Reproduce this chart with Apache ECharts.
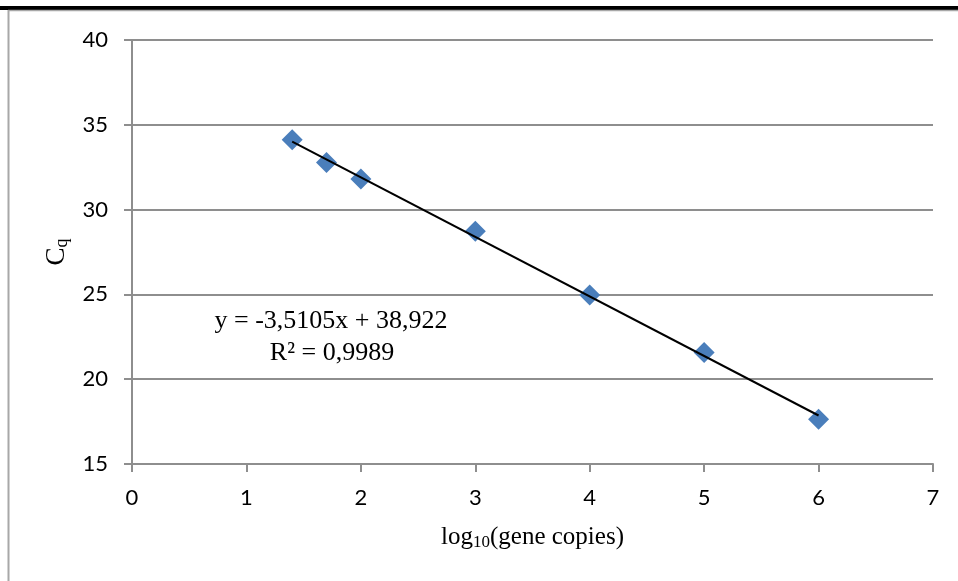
<!DOCTYPE html>
<html><head><meta charset="utf-8">
<script src="https://cdn.jsdelivr.net/npm/echarts@6/dist/echarts.min.js"></script>
<style>html,body{margin:0;padding:0;background:#fff}#c{width:958px;height:581px}</style>
</head><body><div id="c"></div>
<script>
const xValues = [1.4, 1.7, 2, 3, 4, 5, 6];
const cqValues = [34.12, 32.78, 31.8, 28.72, 24.96, 21.58, 17.64];
const trendX = [1.4, 6];
const trendY = [34.007, 17.859];
const equationText = 'y = -3,5105x + 38,922';
const r2Text = 'R² = 0,9989';
const xTicks = [0, 1, 2, 3, 4, 5, 6, 7];
const yTicks = [15, 20, 25, 30, 35, 40];

const chart = echarts.init(document.getElementById('c'));
const gray = '#8e8e8e';
chart.setOption({
  animation: false,
  grid: {left: 132, right: 25, top: 40, bottom: 117},
  xAxis: {
    type: 'value', min: xTicks[0], max: xTicks[xTicks.length-1], interval: 1,
    axisLine: {show: true, lineStyle: {color: gray, width: 2}},
    axisTick: {show: true, inside: false, length: 8, lineStyle: {color: gray, width: 2}},
    splitLine: {show: false},
    axisLabel: {color: '#000', fontFamily: 'Lato', fontSize: 22, margin: 23},
    name: '{a|log}{s|10}{a|(gene copies)}', nameLocation: 'middle', nameGap: 60,
    nameTextStyle: {rich: {
      a: {fontFamily: 'Liberation Serif', fontSize: 25, color: '#000'},
      s: {fontFamily: 'Liberation Serif', fontSize: 17, color: '#000', verticalAlign: 'bottom', padding: [10,0,0,0]}
    }}
  },
  yAxis: {
    type: 'value', min: yTicks[0], max: yTicks[yTicks.length-1], interval: 5,
    axisLine: {show: true, lineStyle: {color: gray, width: 2}},
    axisTick: {show: true, inside: false, length: 8, lineStyle: {color: gray, width: 2}},
    splitLine: {show: true, lineStyle: {color: gray, width: 2}},
    axisLabel: {color: '#000', fontFamily: 'Lato', fontSize: 22, margin: 24},
    name: '{a|C}{s|q}', nameLocation: 'middle', nameGap: 55, nameRotate: 90,
    nameTextStyle: {rich: {
      a: {fontFamily: 'Liberation Serif', fontSize: 27, color: '#000'},
      s: {fontFamily: 'Liberation Serif', fontSize: 18, color: '#000', verticalAlign: 'bottom', padding: [12,0,0,0]}
    }}
  },
  series: [
    {
      type: 'line', data: trendX.map((x, i) => [x, trendY[i]]),
      symbol: 'none', lineStyle: {color: '#000', width: 2}, z: 3
    },
    {
      type: 'scatter', data: xValues.map((x, i) => [x, cqValues[i]]),
      symbol: 'diamond', symbolSize: [21, 21],
      itemStyle: {color: '#4A7EBB', opacity: 1}, z: 2
    }
  ],
  graphic: [
    {type: 'rect', shape: {x: 0, y: 6, width: 958, height: 4}, style: {fill: '#000'}},
    {type: 'line', shape: {x1: 8, y1: 10.5, x2: 958, y2: 10.5}, style: {stroke: '#a8a8a8', lineWidth: 1.5}},
    {type: 'line', shape: {x1: 8.5, y1: 10, x2: 8.5, y2: 581}, style: {stroke: '#a8a8a8', lineWidth: 2}},
    {type: 'text', x: 331, y: 321, style: {text: equationText, font: '26px "Liberation Serif"', fill: '#000', align: 'center', verticalAlign: 'middle'}},
    {type: 'text', x: 332, y: 353, style: {text: r2Text, font: '26px "Liberation Serif"', fill: '#000', align: 'center', verticalAlign: 'middle'}}
  ]
});
</script></body></html>
